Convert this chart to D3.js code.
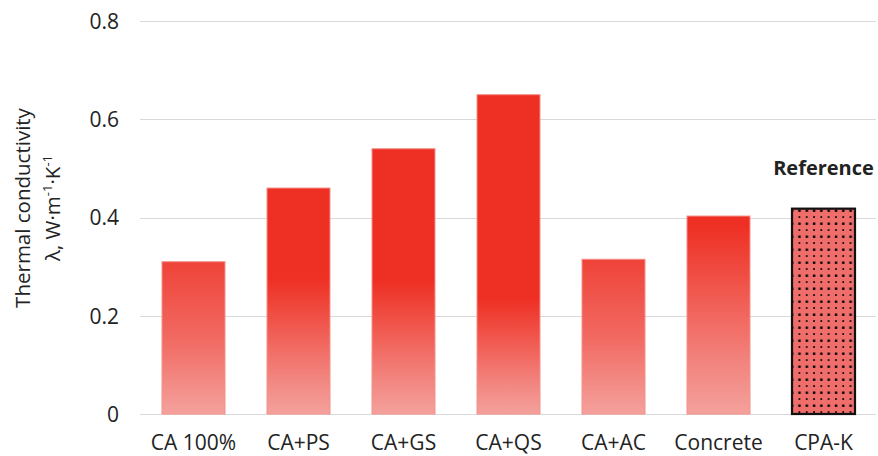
<!DOCTYPE html>
<html>
<head>
<meta charset="utf-8">
<script src="https://cdn.jsdelivr.net/npm/d3@7"></script>
<style>
  html, body { margin: 0; padding: 0; background: #ffffff; }
  svg { display: block; }
  text { font-family: "Open Sans", sans-serif; fill: #222; }
</style>
</head>
<body>
<svg id="chart" width="878" height="456"></svg>
<script>
// Thermal conductivity of the samples, W·m⁻¹·K⁻¹
const categories = ["CA 100%", "CA+PS", "CA+GS", "CA+QS", "CA+AC", "Concrete", "CPA-K"];
const conductivity = [0.31, 0.46, 0.54, 0.65, 0.315, 0.403, 0.418];
const yTicks = [0, 0.2, 0.4, 0.6, 0.8];
const referenceCategory = "CPA-K";

// Gradient shading for each column: share of the column (from the top) kept
// solid red, and how much the top edge is already faded
const shading = {
  "CA 100%": { solid: 0, topFade: 0.17 },
  "CA+PS":   { solid: 0.40, topFade: 0 },
  "CA+GS":   { solid: 0.50, topFade: 0 },
  "CA+QS":   { solid: 0.64, topFade: 0 },
  "CA+AC":   { solid: 0, topFade: 0.17 },
  "Concrete":{ solid: 0.05, topFade: 0 }
};

const svg = d3.select("#chart");
const margin = { left: 141, right: 2, top: 21, bottom: 42 };
const W = 878, H = 456;

const x = d3.scaleBand().domain(categories)
  .range([margin.left, W - margin.right]).paddingInner(0.4).paddingOuter(0.2);
const y = d3.scaleLinear().domain([0, 0.8]).range([H - margin.bottom, margin.top]);

const red = d3.rgb(238, 48, 36), pale = d3.rgb(244, 161, 157);
const mix = d3.interpolateRgb(red, pale);

const defs = svg.append("defs");
categories.forEach((c, i) => {
  if (c === referenceCategory) return;
  const s = shading[c];
  const g = defs.append("linearGradient").attr("id", "grad" + i)
    .attr("x1", 0).attr("y1", 0).attr("x2", 0).attr("y2", 1);
  const stops = [];
  stops.push([0, mix(s.topFade)]);
  if (s.solid > 0) stops.push([s.solid, mix(0)]);
  const rest = 1 - s.solid;
  if (s.topFade > 0) {
    stops.push([0.5, mix(0.5)]);
  } else {
    stops.push([s.solid + rest * 0.3, mix(0.3)]);
    stops.push([s.solid + rest * 0.7, mix(0.72)]);
  }
  stops.push([1, mix(1)]);
  g.selectAll("stop").data(stops).join("stop")
    .attr("offset", d => d[0]).attr("stop-color", d => d[1]);
});

// dotted fill for the reference material
const pat = defs.append("pattern").attr("id", "dots")
  .attr("patternUnits", "userSpaceOnUse").attr("width", 7.3).attr("height", 13);
pat.append("rect").attr("width", 7.3).attr("height", 13).attr("fill", "#ef6e6b");
pat.append("rect").attr("x", 2.6).attr("y", 1.5).attr("width", 2.4).attr("height", 2.4).attr("fill", "#000");
pat.append("rect").attr("x", 2.9).attr("y", 8.2).attr("width", 1.7).attr("height", 1.7).attr("fill", "#000");

// gridlines
svg.append("g").selectAll("line").data(yTicks).join("line")
  .attr("x1", margin.left - 1).attr("x2", W - margin.right)
  .attr("y1", d => Math.round(y(d)) + 0.5).attr("y2", d => Math.round(y(d)) + 0.5)
  .attr("stroke", "#d9d9d9").attr("stroke-width", 1.2);

// y tick labels
const yAxis = d3.axisLeft(y).tickValues(yTicks).tickSize(0).tickPadding(0)
  .tickFormat(d => d === 0 ? "0" : d3.format(".1f")(d));
const ya = svg.append("g").attr("transform", `translate(${margin.left - 22},0)`).call(yAxis);
ya.select(".domain").remove();
ya.selectAll("text").attr("font-family", "Open Sans").attr("font-size", 21)
  .attr("fill", "#222").attr("dy", "0.35em");

// x category labels
const xAxis = d3.axisBottom(x).tickSize(0).tickPadding(0);
const xa = svg.append("g").attr("transform", `translate(0,${H - margin.bottom})`).call(xAxis);
xa.select(".domain").remove();
xa.selectAll("text").attr("font-family", "Open Sans").attr("font-size", 21)
  .attr("fill", "#222").attr("y", 36).attr("dy", 0);

// columns
const data = categories.map((c, i) => ({ c, v: conductivity[i], i }));
svg.append("g").selectAll("rect").data(data.filter(d => d.c !== referenceCategory)).join("rect")
  .attr("x", d => x(d.c)).attr("width", x.bandwidth())
  .attr("y", d => y(d.v)).attr("height", d => y(0) - y(d.v))
  .attr("fill", d => `url(#grad${d.i})`)
  .attr("stroke", "#f5918a").attr("stroke-width", 1);

const ref = data.find(d => d.c === referenceCategory);
svg.append("rect")
  .attr("x", x(ref.c)).attr("width", x.bandwidth())
  .attr("y", y(ref.v)).attr("height", y(0) - y(ref.v))
  .attr("fill", "url(#dots)").attr("stroke", "#111").attr("stroke-width", 2.2);

svg.append("text").attr("x", x(ref.c) + x.bandwidth() / 2).attr("y", y(ref.v) - 34)
  .attr("text-anchor", "middle").attr("font-family", "DejaVu Sans").attr("font-weight", "bold")
  .attr("font-size", 20).attr("fill", "#111").text("Reference");

// y axis title
const title = svg.append("text").attr("transform", "translate(0,208) rotate(-90)")
  .attr("text-anchor", "middle").attr("font-size", 20.5);
title.append("tspan").attr("x", 0).attr("y", 30).text("Thermal conductivity");
const l2 = title.append("tspan").attr("x", 0).attr("y", 60);
l2.append("tspan").text("λ, W·m");
l2.append("tspan").attr("font-size", 13).attr("dy", -8).text("-1");
l2.append("tspan").attr("dy", 8).text("·K");
l2.append("tspan").attr("font-size", 13).attr("dy", -8).text("-1");
</script>
</body>
</html>
